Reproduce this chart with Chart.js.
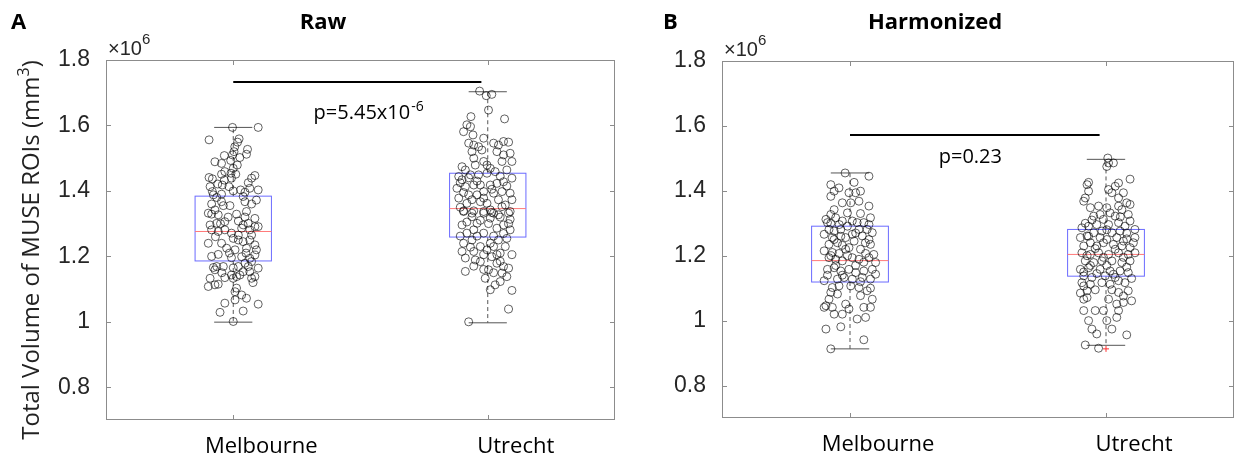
<!DOCTYPE html>
<html>
<head>
<meta charset="utf-8">
<script src="https://cdn.jsdelivr.net/npm/chart.js@4.4.1/dist/chart.umd.min.js"></script>
<style>
  body { margin: 0; background: #fff; }
  #wrap { position: relative; width: 1239px; height: 455px; }
  canvas { position: absolute; top: 0; }
</style>
</head>
<body>
<div id="wrap">
  <canvas id="rawCanvas" width="620" height="455" style="left:0"></canvas>
  <canvas id="harmCanvas" width="619" height="455" style="left:620px"></canvas>
</div>
<script>
// values are total volume in units of 10^6 mm^3
const sites = ['Melbourne', 'Utrecht'];
const yTicks = [0.8, 1.0, 1.2, 1.4, 1.6, 1.8];

// [lower whisker, q1, median, q3, upper whisker]
const rawBoxMelbourne = [0.999, 1.186, 1.276, 1.384, 1.594];
const rawBoxUtrecht = [0.997, 1.259, 1.346, 1.454, 1.703];
const harmBoxMelbourne = [0.913, 1.119, 1.185, 1.291, 1.455];
const harmBoxUtrecht = [0.924, 1.137, 1.204, 1.281, 1.497];
const harmOutliersUtrecht = [0.913];

// significance bar: [x from, x to, y]
const rawSigBar = [1.0, 1.975, 1.733];
const harmSigBar = [1.0, 1.975, 1.572];
const rawP = ['p=5.45x10', '-6'];
const harmP = ['p=0.23', ''];

// jittered subjects: [x, volume]
const rawMelbourne = [
  [0.997,1.594],[1.098,1.594],[0.905,1.556],[1.023,1.559],[1.017,1.549],[1.006,1.535],[1.056,1.527],[1.003,1.520],[0.965,1.508],[0.997,1.510],
  [1.026,1.502],[1.052,1.512],[0.928,1.489],[0.954,1.484],[0.990,1.493],[1.016,1.479],[1.000,1.469],[0.967,1.459],[0.954,1.451],[0.991,1.454],
  [1.010,1.451],[1.072,1.439],[1.085,1.447],[0.905,1.441],[0.918,1.437],[0.965,1.433],[0.993,1.439],[1.059,1.425],[0.909,1.413],[0.939,1.421],
  [0.957,1.418],[0.983,1.413],[1.029,1.403],[1.065,1.408],[1.098,1.403],[0.918,1.398],[0.922,1.388],[0.954,1.390],[1.046,1.396],[1.039,1.383],
  [1.046,1.367],[1.091,1.372],[0.954,1.367],[0.961,1.355],[0.987,1.355],[0.928,1.342],[0.902,1.332],[0.915,1.329],[0.941,1.327],[1.013,1.329],
  [1.052,1.337],[1.085,1.316],[1.020,1.308],[0.967,1.306],[0.935,1.301],[0.909,1.296],[1.039,1.296],[1.085,1.291],[1.059,1.301],
  [0.915,1.281],[0.941,1.276],[0.967,1.281],[1.033,1.286],[1.065,1.281],[1.098,1.291],[0.993,1.271],[1.020,1.265],[0.902,1.240],[0.954,1.240],
  [0.974,1.225],[1.020,1.250],[1.039,1.245],[1.065,1.250],[1.085,1.235],[1.052,1.225],[1.091,1.220],[1.007,1.220],[0.941,1.206],[0.993,1.196],
  [1.033,1.199],[1.065,1.194],[1.085,1.204],[1.046,1.179],[1.059,1.169],[1.072,1.184],[1.098,1.164],[0.922,1.166],[0.935,1.169],[0.961,1.169],
  [0.928,1.159],[1.020,1.169],[1.039,1.153],[1.065,1.153],[0.993,1.143],[1.013,1.138],[1.026,1.143],[0.967,1.135],[0.909,1.133],[1.085,1.138],
  [1.072,1.133],[0.902,1.108],[0.928,1.113],[0.941,1.115],[1.000,1.133],[1.013,1.103],[1.007,1.092],[1.033,1.082],[1.052,1.072],[1.007,1.067],
  [0.967,1.057],[0.948,1.029],[1.039,1.033],[1.098,1.054],[1.000,1.001],
  [0.935,1.380],[1.000,1.400],[1.072,1.360],[0.915,1.360],[0.980,1.320],[1.046,1.320],[0.950,1.300],[1.000,1.255],[0.930,1.260],[1.072,1.265],
  [0.985,1.210],[1.050,1.210],[0.915,1.200],[1.000,1.165],[1.078,1.120],[0.955,1.150]
];
const rawUtrecht = [
  [1.968,1.705],[1.994,1.691],[2.016,1.695],[2.003,1.647],[1.934,1.627],[2.066,1.620],[1.918,1.602],[1.905,1.581],[1.932,1.596],[1.942,1.571],
  [1.984,1.561],[2.023,1.546],[2.042,1.540],[2.082,1.549],[2.062,1.551],[1.925,1.546],[1.945,1.540],[1.964,1.535],[1.938,1.520],[1.977,1.525],
  [2.036,1.520],[2.062,1.510],[2.088,1.515],[2.095,1.490],[2.056,1.490],[1.945,1.500],[1.951,1.479],[1.984,1.490],[1.997,1.479],[1.899,1.474],
  [1.912,1.464],[2.010,1.469],[2.029,1.459],[2.075,1.464],[1.932,1.449],[1.964,1.449],[1.997,1.454],[1.886,1.444],[1.899,1.434],[2.095,1.439],
  [2.062,1.428],[2.036,1.423],[1.971,1.418],[1.945,1.418],[1.912,1.413],[1.879,1.408],[2.010,1.418],[1.984,1.398],[1.925,1.388],[1.958,1.388],
  [2.023,1.393],[2.056,1.398],[2.088,1.393],[1.886,1.378],[1.984,1.378],[2.042,1.373],[2.095,1.373],[1.938,1.373],[1.918,1.362],[1.997,1.362],
  [2.069,1.357],[1.905,1.339],[1.945,1.339],[2.010,1.342],[2.088,1.337],[2.023,1.332],[1.984,1.332],
  [1.905,1.337],[1.938,1.332],[1.984,1.337],[2.016,1.334],[2.042,1.327],[2.082,1.332],[2.088,1.313],[1.899,1.296],[1.958,1.301],[2.062,1.296],
  [2.010,1.317],[2.036,1.286],[1.918,1.271],[1.945,1.281],[1.984,1.271],[2.088,1.281],[1.905,1.240],[1.938,1.250],[2.010,1.240],[2.042,1.250],
  [2.075,1.255],[1.971,1.230],[1.997,1.220],[2.023,1.230],[1.945,1.215],[2.049,1.210],[2.095,1.205],[1.951,1.189],[1.971,1.184],[2.016,1.199],
  [2.036,1.179],[2.062,1.169],[2.082,1.164],[1.912,1.154],[2.003,1.159],[2.056,1.149],[2.075,1.138],[1.990,1.133],[2.049,1.123],[2.029,1.113],
  [2.010,1.098],[2.095,1.096],[2.082,1.039],[1.925,1.000],
  [1.925,1.440],[1.958,1.430],[2.049,1.445],[1.892,1.425],[2.016,1.405],[2.075,1.415],[1.905,1.395],[1.971,1.367],[2.056,1.352],[1.892,1.350],
  [1.938,1.321],[1.971,1.310],[2.003,1.300],[2.049,1.320],[2.082,1.300],[1.918,1.305],[1.958,1.262],[2.023,1.262],[2.062,1.270],[1.892,1.262],
  [1.932,1.228],[2.069,1.230],[1.984,1.205],[2.036,1.205],[1.912,1.195],[2.049,1.185],[1.945,1.170],[2.023,1.150],[1.899,1.215],[1.984,1.160]
];
const harmMelbourne = [
  [0.981,1.455],[1.074,1.445],[1.016,1.426],[0.925,1.419],[0.957,1.409],[0.938,1.399],[0.996,1.394],[1.022,1.394],[1.041,1.399],[0.925,1.383],
  [0.970,1.363],[1.003,1.363],[1.035,1.368],[1.074,1.353],[0.938,1.342],[0.925,1.327],[0.944,1.317],[0.990,1.332],[1.080,1.317],[0.906,1.312],
  [0.912,1.302],[0.970,1.307],[1.009,1.307],[1.028,1.302],[1.054,1.302],[1.074,1.296],[0.918,1.281],[0.938,1.276],[0.964,1.281],[0.990,1.291],
  [1.035,1.281],[1.067,1.281],[1.087,1.271],[0.899,1.266],[0.931,1.256],[0.983,1.256],[1.009,1.266],[1.048,1.261],[1.074,1.250],[0.918,1.235],
  [0.951,1.240],[0.970,1.232],[0.996,1.225],[1.016,1.245],[1.041,1.220],[1.080,1.235],[0.899,1.215],[0.931,1.210],[0.957,1.207],[0.983,1.220],
  [1.061,1.207],[1.093,1.204],
  [0.918,1.194],[0.944,1.189],[0.970,1.184],[1.009,1.194],[1.035,1.189],[1.074,1.194],[1.100,1.179],[0.912,1.158],[0.938,1.163],[0.964,1.153],
  [0.996,1.158],[1.022,1.148],[1.054,1.153],[1.087,1.158],[0.899,1.123],[0.951,1.128],[0.977,1.133],[1.009,1.128],[1.048,1.133],[1.080,1.128],
  [1.100,1.143],[0.931,1.102],[0.957,1.107],[1.003,1.107],[1.035,1.102],[1.067,1.092],[0.925,1.087],[0.951,1.082],[1.041,1.077],[1.087,1.066],
  [0.918,1.066],[0.899,1.041],[0.931,1.041],[0.983,1.051],[0.906,1.046],[0.996,1.036],[0.938,1.020],[0.970,1.020],[1.054,1.041],[1.080,1.041],
  [1.028,1.005],[1.061,1.010],[0.906,0.974],[0.964,0.981],[1.054,0.941],[0.925,0.913],
  [0.925,1.300],[0.958,1.296],[1.041,1.330],[0.938,1.250],[1.022,1.270],[0.964,1.260],[1.060,1.240],[0.925,1.200],[0.990,1.200],[1.054,1.180],
  [0.944,1.170],[1.022,1.170],[0.970,1.140],[1.041,1.120],[0.912,1.140],[1.080,1.100]
];
const harmUtrecht = [
  [2.007,1.501],[2.010,1.486],[2.029,1.486],[2.003,1.475],[2.094,1.436],[1.932,1.426],[1.926,1.419],[2.049,1.424],[2.036,1.414],[2.010,1.404],
  [1.932,1.399],[1.919,1.378],[1.913,1.368],[2.068,1.394],[2.023,1.394],[2.049,1.378],[2.081,1.363],[2.094,1.358],[1.939,1.348],[1.971,1.353],
  [2.003,1.348],[2.049,1.353],[2.062,1.342],[1.952,1.322],[1.977,1.327],[1.990,1.312],[2.016,1.332],[2.036,1.322],[2.087,1.327],[2.094,1.307],
  [1.906,1.286],[1.932,1.291],[1.964,1.296],[2.010,1.296],[2.049,1.302],[2.074,1.291],[1.952,1.271],[1.984,1.276],[2.023,1.271],[2.055,1.276],
  [2.113,1.281],[1.900,1.256],[1.926,1.261],[1.977,1.256],[2.003,1.250],[2.042,1.256],[2.081,1.252],[2.107,1.240],[1.939,1.240],[1.913,1.230],
  [1.964,1.230],[2.029,1.235],[2.062,1.230],[2.113,1.256],
  [1.906,1.209],[1.939,1.204],[1.971,1.209],[2.010,1.204],[2.049,1.209],[2.087,1.204],[2.113,1.209],[1.919,1.184],[1.952,1.179],[1.984,1.184],
  [2.023,1.184],[2.062,1.179],[2.094,1.184],[1.900,1.158],[1.932,1.163],[1.977,1.158],[2.016,1.153],[2.055,1.153],[2.087,1.148],[1.913,1.138],
  [1.945,1.133],[1.997,1.138],[2.036,1.133],[1.906,1.117],[1.913,1.107],[1.939,1.112],[1.984,1.117],[2.016,1.112],[2.049,1.123],[2.074,1.117],
  [1.926,1.092],[2.049,1.087],[2.087,1.092],[2.068,1.076],[1.913,1.066],[1.926,1.071],[2.010,1.066],[2.100,1.061],[2.042,1.051],[2.068,1.056],
  [1.913,1.031],[1.958,1.031],[1.990,1.031],[2.049,1.031],[1.932,1.000],[2.003,1.000],[2.042,1.010],[1.945,0.974],[2.023,0.974],[1.964,0.959],
  [2.081,0.956],[1.919,0.925],[1.971,0.915],
  [1.945,1.310],[2.056,1.320],[1.919,1.300],[2.003,1.280],[2.081,1.270],[1.932,1.260],[1.990,1.240],[2.068,1.245],[1.958,1.222],[2.036,1.220],
  [2.094,1.225],[1.926,1.200],[1.990,1.195],[2.068,1.195],[1.939,1.170],[2.003,1.170],[2.081,1.165],[1.913,1.150],[1.964,1.145],[2.029,1.143],
  [2.100,1.130],[1.958,1.095],[2.023,1.095],[1.900,1.085]
];

const textFont = '"Open Sans", "Noto Sans", sans-serif';
const tickFont = '"Liberation Sans Narrow", "Liberation Sans", Arial, sans-serif';

function toXY(list) {
  return list.map(p => ({ x: p[0], y: p[1] }));
}

function drawBox(ctx, xs, ys, pos, stats) {
  const halfBox = 0.15, halfCap = 0.075;
  const xl = xs.getPixelForValue(pos - halfBox);
  const xr = xs.getPixelForValue(pos + halfBox);
  const xc = xs.getPixelForValue(pos);
  const cl = xs.getPixelForValue(pos - halfCap);
  const cr = xs.getPixelForValue(pos + halfCap);
  const [lo, q1, med, q3, hi] = stats.map(v => ys.getPixelForValue(v));

  ctx.save();
  ctx.lineWidth = 1;
  // whiskers
  ctx.strokeStyle = '#555';
  ctx.setLineDash([4, 3]);
  ctx.beginPath();
  ctx.moveTo(xc, q3); ctx.lineTo(xc, hi);
  ctx.moveTo(xc, q1); ctx.lineTo(xc, lo);
  ctx.stroke();
  ctx.setLineDash([]);
  ctx.beginPath();
  ctx.moveTo(cl, hi); ctx.lineTo(cr, hi);
  ctx.moveTo(cl, lo); ctx.lineTo(cr, lo);
  ctx.stroke();
  // box
  ctx.strokeStyle = '#6b6bff';
  ctx.strokeRect(xl, q3, xr - xl, q1 - q3);
  // median
  ctx.strokeStyle = '#ff7a7a';
  ctx.beginPath();
  ctx.moveTo(xl, med); ctx.lineTo(xr, med);
  ctx.stroke();
  ctx.restore();
}

function makePanel(canvasId, opts) {
  const decor = {
    id: 'decor',
    beforeDatasetsDraw(chart) {
      const { ctx, scales: { x, y } } = chart;
      opts.boxes.forEach((b, i) => drawBox(ctx, x, y, i + 1, b));
      // outliers
      ctx.save();
      ctx.strokeStyle = '#ff3030';
      ctx.lineWidth = 1;
      opts.outliers.forEach(o => {
        const px = x.getPixelForValue(o[0]), py = y.getPixelForValue(o[1]);
        ctx.beginPath();
        ctx.moveTo(px - 3, py); ctx.lineTo(px + 3, py);
        ctx.moveTo(px, py - 3); ctx.lineTo(px, py + 3);
        ctx.stroke();
      });
      ctx.restore();
    },
    afterDraw(chart) {
      const { ctx, chartArea: a, scales: { x, y } } = chart;
      ctx.save();
      // axes box with inward ticks
      ctx.strokeStyle = '#8c8c8c';
      ctx.lineWidth = 1;
      ctx.strokeRect(a.left + 0.5, a.top + 0.5, a.right - a.left - 1, a.bottom - a.top - 1);
      ctx.beginPath();
      yTicks.forEach(v => {
        const py = Math.round(y.getPixelForValue(v)) + 0.5;
        ctx.moveTo(a.left, py); ctx.lineTo(a.left + 5, py);
        ctx.moveTo(a.right, py); ctx.lineTo(a.right - 5, py);
      });
      [1, 2].forEach(v => {
        const px = Math.round(x.getPixelForValue(v)) + 0.5;
        ctx.moveTo(px, a.top); ctx.lineTo(px, a.top + 5);
        ctx.moveTo(px, a.bottom); ctx.lineTo(px, a.bottom - 5);
      });
      ctx.stroke();

      // x10^6 multiplier
      ctx.fillStyle = '#262626';
      ctx.textBaseline = 'alphabetic';
      ctx.textAlign = 'left';
      ctx.font = '20px ' + tickFont;
      ctx.fillText('\u00d710', a.left + 2, a.top - 5);
      const w = ctx.measureText('\u00d710').width;
      ctx.font = '15px ' + tickFont;
      ctx.fillText('6', a.left + 2 + w, a.top - 16);

      // panel letter and title
      ctx.fillStyle = '#000';
      ctx.font = 'bold 22px ' + textFont;
      ctx.fillText(opts.letter, opts.letterX, 29);
      ctx.textAlign = 'center';
      ctx.fillText(opts.title, opts.titleX, 29);

      // p value
      ctx.font = '20px ' + textFont;
      const mainW = ctx.measureText(opts.p[0]).width;
      ctx.font = '14px ' + textFont;
      const supW = ctx.measureText(opts.p[1]).width;
      const startX = x.getPixelForValue(opts.pAt[0]) - (mainW + supW) / 2;
      const baseY = y.getPixelForValue(opts.pAt[1]);
      ctx.textAlign = 'left';
      ctx.font = '20px ' + textFont;
      ctx.fillText(opts.p[0], startX, baseY);
      ctx.font = '14px ' + textFont;
      ctx.fillText(opts.p[1], startX + mainW + 1, baseY - 8);

      // y title
      if (opts.yTitle) {
        ctx.save();
        ctx.translate(32, 250);
        ctx.rotate(-Math.PI / 2);
        ctx.textBaseline = 'middle';
        ctx.fillStyle = '#222';
        ctx.font = '24px ' + textFont;
        const t = 'Total Volume of MUSE ROIs (mm';
        const tw = ctx.measureText(t).width;
        ctx.font = '16px ' + textFont;
        const sw = ctx.measureText('3').width;
        ctx.font = '24px ' + textFont;
        const cw = ctx.measureText(')').width;
        const x0 = -(tw + sw + cw) / 2;
        ctx.textAlign = 'left';
        ctx.fillText(t, x0, 0);
        ctx.font = '16px ' + textFont;
        ctx.fillText('3', x0 + tw, -8);
        ctx.font = '24px ' + textFont;
        ctx.fillText(')', x0 + tw + sw, 0);
        ctx.restore();
      }
      ctx.restore();
    }
  };

  const pointStyle = {
    showLine: false,
    pointRadius: 4,
    pointBorderWidth: 1,
    pointBackgroundColor: 'rgba(0,0,0,0)',
    pointBorderColor: 'rgba(0,0,0,0.62)'
  };

  return new Chart(document.getElementById(canvasId), {
    type: 'scatter',
    data: {
      datasets: [
        Object.assign({ label: sites[0], data: toXY(opts.groups[0]) }, pointStyle),
        Object.assign({ label: sites[1], data: toXY(opts.groups[1]) }, pointStyle),
        {
          type: 'line',
          label: 'sig',
          data: [{ x: opts.sig[0], y: opts.sig[2] }, { x: opts.sig[1], y: opts.sig[2] }],
          borderColor: '#000',
          borderWidth: 2,
          pointRadius: 0
        }
      ]
    },
    options: {
      responsive: false,
      animation: false,
      layout: { padding: { left: 0, right: opts.padRight, top: opts.padTop, bottom: 0 } },
      plugins: { legend: { display: false }, tooltip: { enabled: false } },
      scales: {
        x: {
          type: 'linear',
          min: 0.5, max: 2.5,
          afterBuildTicks: s => { s.ticks = [{ value: 1 }, { value: 2 }]; },
          afterFit: s => { s.height = opts.xAxisHeight; },
          grid: { display: false },
          border: { display: false },
          ticks: {
            callback: v => sites[Math.round(v) - 1],
            labelOffset: 28,
            padding: 6,
            maxRotation: 0,
            autoSkip: false,
            color: '#000',
            font: { family: textFont, size: 22 }
          }
        },
        y: {
          min: 0.7, max: 1.8,
          afterBuildTicks: s => { s.ticks = yTicks.map(v => ({ value: v })); },
          afterFit: s => { s.width = opts.yAxisWidth; },
          grid: { display: false },
          border: { display: false },
          ticks: {
            callback: v => String(Number(v.toFixed(1))),
            padding: 8,
            color: '#262626',
            font: { family: tickFont, size: 23 }
          }
        }
      }
    },
    plugins: [decor]
  });
}

makePanel('rawCanvas', {
  groups: [rawMelbourne, rawUtrecht],
  boxes: [rawBoxMelbourne, rawBoxUtrecht],
  outliers: [],
  sig: rawSigBar,
  p: rawP,
  pAt: [1.53, 1.62],
  letter: 'A', letterX: 11,
  title: 'Raw', titleX: 323,
  yTitle: true,
  yAxisWidth: 106, xAxisHeight: 35, padRight: 3, padTop: 60
});

makePanel('harmCanvas', {
  groups: [harmMelbourne, harmUtrecht],
  boxes: [harmBoxMelbourne, harmBoxUtrecht],
  outliers: harmOutliersUtrecht.map(v => [2, v]),
  sig: harmSigBar,
  p: harmP,
  pAt: [1.47, 1.487],
  letter: 'B', letterX: 43,
  title: 'Harmonized', titleX: 315,
  yTitle: false,
  yAxisWidth: 102, xAxisHeight: 37, padRight: 2, padTop: 61
});
</script>
</body>
</html>
